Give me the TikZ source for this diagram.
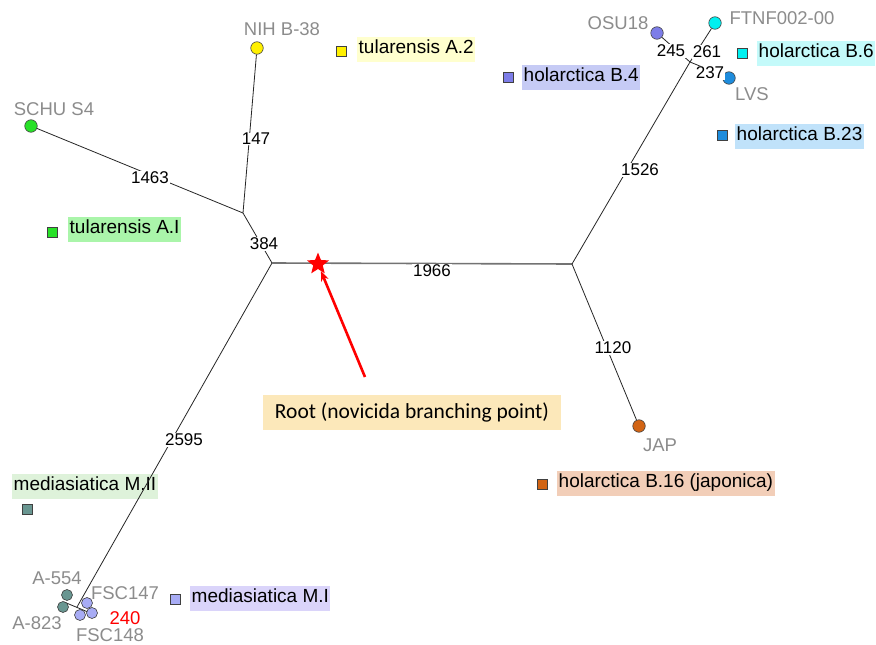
\documentclass[tikz,border=0pt]{standalone}
\usepackage{fontspec}
\setmainfont{Liberation Sans}
\newfontfamily\calib{Carlito}
\usetikzlibrary{shapes.geometric,arrows.meta}
\definecolor{labgray}{RGB}{140,140,140}
\definecolor{cGreen}{RGB}{40,225,40}
\definecolor{cYellow}{RGB}{255,240,0}
\definecolor{cPurple}{RGB}{125,125,232}
\definecolor{cCyan}{RGB}{0,240,240}
\definecolor{cBlue}{RGB}{30,140,220}
\definecolor{cOrange}{RGB}{210,100,20}
\definecolor{cTeal}{RGB}{105,150,145}
\definecolor{cLilac}{RGB}{168,172,245}
\definecolor{bA2}{RGB}{255,255,206}
\definecolor{bB4}{RGB}{198,203,245}
\definecolor{bB6}{RGB}{196,250,250}
\definecolor{bB23}{RGB}{192,226,250}
\definecolor{bAI}{RGB}{170,245,170}
\definecolor{bMII}{RGB}{222,242,218}
\definecolor{bMI}{RGB}{218,212,250}
\definecolor{bB16}{RGB}{242,206,184}
\definecolor{bRoot}{RGB}{252,232,186}
\begin{document}
\begin{tikzpicture}[x=1pt,y=-1pt,
  br/.style={draw=black!85, line width=0.8pt},
  rootline/.style={draw=black!55, line width=1.6pt},
  tip/.style={circle, draw=black!75, line width=0.6pt, minimum size=12.5pt, inner sep=0pt},
  tipsm/.style={tip, minimum size=11pt},
  sq/.style={rectangle, draw=black!75, line width=0.6pt, minimum size=10pt, inner sep=0pt},
  strain/.style={text=labgray, font=\fontsize{18.5}{20}\selectfont, inner sep=0pt},
  num/.style={fill=white, inner sep=0.6pt, font=\fontsize{17}{18}\selectfont},
  leg/.style={anchor=west, inner xsep=1.5pt, inner ysep=3.5pt, text height=13.8pt, text depth=4.2pt, font=\fontsize{19}{21}\selectfont},
]
\useasboundingbox (0,0) rectangle (876,645);
\fill[white] (0,0) rectangle (876,645);

% internal points
\coordinate (A) at (243,213);
\coordinate (B) at (272,263);
\coordinate (C) at (572,264);
\coordinate (J) at (690,62);
\coordinate (K) at (77,607);
\coordinate (Kl) at (64,602);
\coordinate (Kr) at (88,612);

% legend box crossed by the lower-left branch
\node[leg, fill=bMII] (gMII) at (12,486) {mediasiatica M.II};

% bottom-left cluster lines (under the circles)
\draw[br] (B) -- (K);
\draw[br] (Kl) -- (Kr);

% tips
\node[tip, fill=cGreen]  (schu) at (31,126) {};
\node[tip, fill=cYellow] (nih)  at (257,48) {};
\node[tip, fill=cPurple] (osu)  at (657,33) {};
\node[tip, fill=cCyan]   (ftnf) at (715,23) {};
\node[tip, fill=cBlue]   (lvs)  at (729,78) {};
\node[tip, fill=cOrange] (jap)  at (639,426) {};
\node[tipsm, fill=cTeal]  (a554) at (67,595) {};
\node[tipsm, fill=cTeal]  (a823) at (63,607) {};
\node[tipsm, fill=cLilac] (f147) at (87,603) {};
\node[tipsm, fill=cLilac] (f148) at (80,615) {};
\node[tipsm, fill=cLilac] (f3)   at (92,613) {};

% branches
\draw[br] (A) -- (schu);
\draw[br] (A) -- (nih);
\draw[br] (A) -- (B);
\draw[rootline] (B) -- (C);
\draw[br] (C) -- (J);
\draw[br] (J) -- (ftnf);
\draw[br] (J) -- (osu);
\draw[br] (J) -- (lvs);
\draw[br] (C) -- (jap);

% branch lengths
\node[num] (l147)  at (256,139) {147};
\node[num] (l1463) at (150,178) {1463};
\node[num] (l384)  at (264,244) {384};
\node[num] (l1966) at (432,271) {1966};
\node[num] (l2595) at (184,440) {2595};
\node[num] (l1526) at (640,170) {1526};
\node[num] (l1120) at (613,348) {1120};
\node[num] (l245)  at (671,51) {245};
\node[num] (l261)  at (707,52) {261};
\node[num] (l237)  at (710,73) {237};

% strain labels
\node[strain] (tNIH)  at (282,29) {NIH B-38};
\node[strain] (tSCHU) at (54,109) {SCHU S4};
\node[strain] (tOSU)  at (618,23) {OSU18};
\node[strain] (tFTNF) at (782,18) {FTNF002-00};
\node[strain] (tLVS)  at (752,94) {LVS};
\node[strain] (tJAP)  at (660,445) {JAP};
\node[strain] (tA554) at (57,578) {A-554};
\node[strain] (tA823) at (37,623) {A-823};
\node[strain] (tF147) at (125,593) {FSC147};
\node[strain] (tF148) at (110,635) {FSC148};
\node[strain, text=red] (t240) at (125,618) {240};

% legend
\node[sq, fill=cYellow] (sA2) at (341,51) {};
\node[leg, fill=bA2] (gA2) at (357,49) {tularensis A.2};
\node[sq, fill=cPurple] (sB4) at (508,77) {};
\node[leg, fill=bB4] (gB4) at (522,77) {holarctica B.4};
\node[sq, fill=cCyan] (sB6) at (742,53) {};
\node[leg, fill=bB6] (gB6) at (757,53) {holarctica B.6};
\node[sq, fill=cBlue] (sB23) at (722,135) {};
\node[leg, fill=bB23] (gB23) at (735,136) {holarctica B.23};
\node[sq, fill=cGreen] (sAI) at (52,232) {};
\node[leg, fill=bAI] (gAI) at (68,229) {tularensis A.I};
\node[sq, fill=cTeal] (sMII) at (27,509) {};
\node[sq, fill=cLilac] (sMI) at (175,599) {};
\node[leg, fill=bMI] (gMI) at (190,598) {mediasiatica M.I};
\node[sq, fill=cOrange] (sB16) at (542,484) {};
\node[leg, fill=bB16] (gB16) at (557,483) {holarctica B.16 (japonica)};

% root
\node[star, star points=5, star point ratio=2.3, fill=red, minimum size=23pt, inner sep=0pt] (root) at (318,264) {};
\node[fill=bRoot, minimum width=298pt, minimum height=35pt, inner sep=0pt, font=\calib\fontsize{21.5}{24}\selectfont] (rootlab) at (412,412.5) {Root (novicida branching point)};
\coordinate (arrS) at (365,377);
\draw[red, line width=2.6pt, -{Stealth[length=10pt,width=8pt]}] (arrS) -- (root);
\end{tikzpicture}
\end{document}
